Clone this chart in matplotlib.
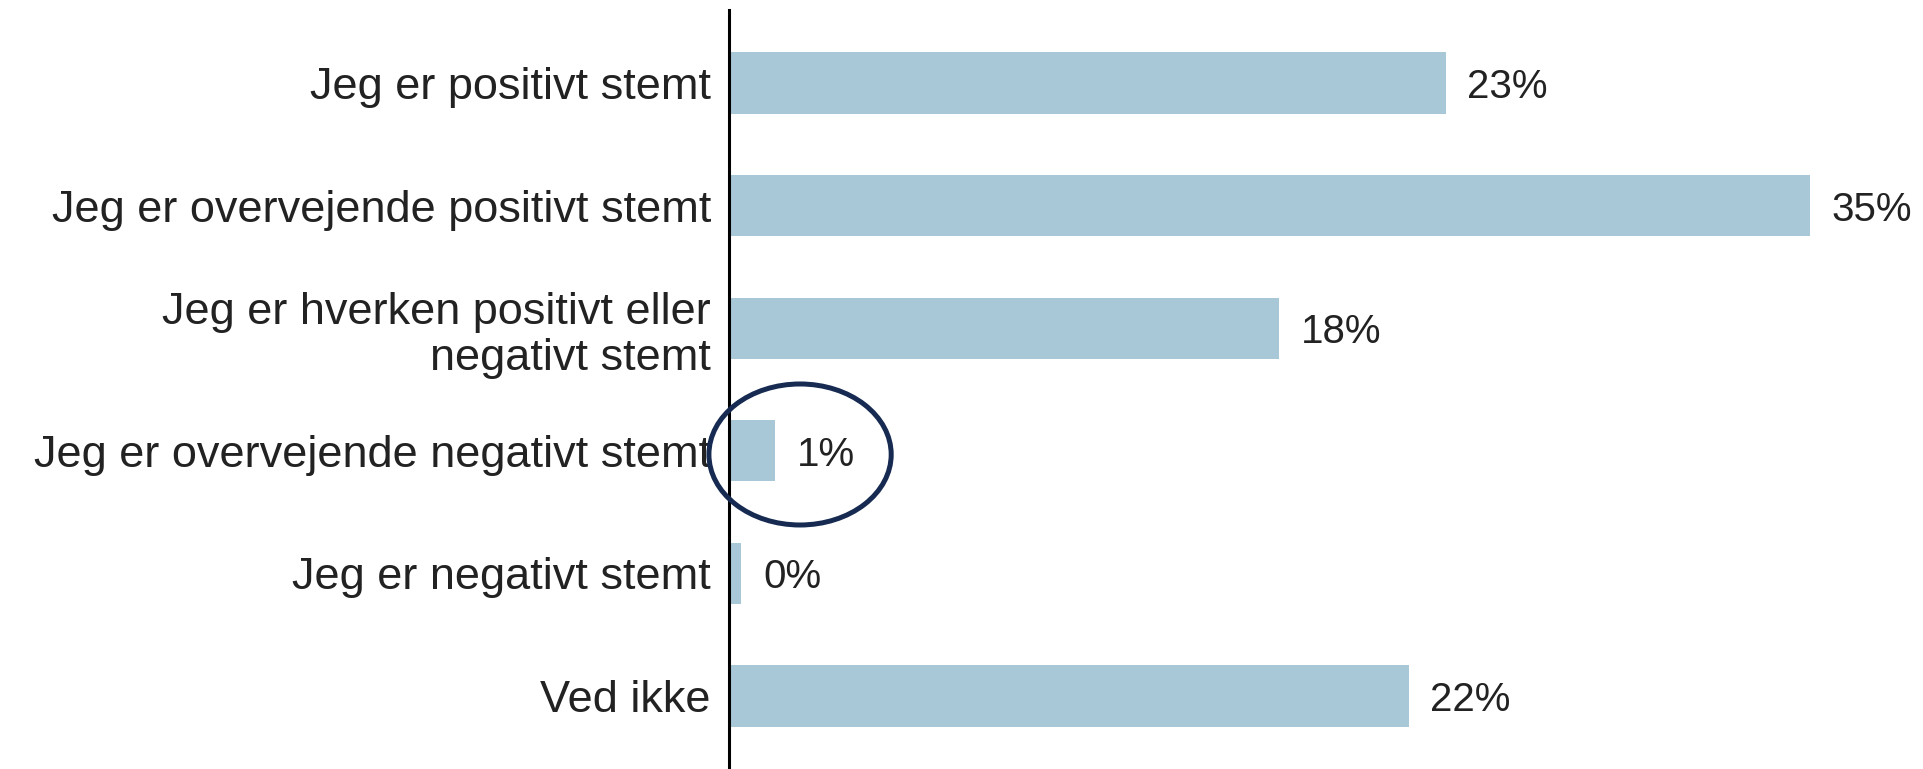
import matplotlib.pyplot as plt
from matplotlib.patches import Ellipse

categories = ['Jeg er positivt stemt',
              'Jeg er overvejende positivt stemt',
              'Jeg er hverken positivt eller\nnegativt stemt',
              'Jeg er overvejende negativt stemt',
              'Jeg er negativt stemt',
              'Ved ikke']
values = [23.2, 35.0, 17.8, 1.5, 0.4, 22.0]
value_labels = ['23%', '35%', '18%', '1%', '0%', '22%']

plt.rcParams['font.family'] = ['Liberation Sans', 'DejaVu Sans']

fig = plt.figure(figsize=(19.23, 7.69), dpi=100)
ax = fig.add_axes([729 / 1923, 0, 1174 / 1923, 759 / 769])

pos = list(range(len(categories)))
ax.barh(pos, values, height=0.5, color='#a8c8d7')
for y, v, lab in zip(pos, values, value_labels):
    ax.text(v + 0.7, y, lab, va='center_baseline', ha='left', fontsize=29, color='#222222')

ax.set_yticks(pos)
ax.set_yticklabels(categories, fontsize=32.5, color='#222222', linespacing=1.18)
for t in ax.get_yticklabels():
    t.set_verticalalignment('center_baseline')
ax.set_xlim(0, 38)
ax.set_ylim(5.595, -0.595)
ax.set_xticks([])
ax.tick_params(axis='y', length=0, pad=13)
for s in ['top', 'right', 'bottom']:
    ax.spines[s].set_visible(False)
ax.spines['left'].set_linewidth(2.2)
ax.spines['left'].set_color('black')

# highlight ring around the 1% bar
ring = Ellipse((2.3, 3.03), 5.9, 1.15, fill=False, edgecolor='#172b52',
               linewidth=3.6, clip_on=False, zorder=5)
ax.add_patch(ring)

plt.savefig('out.png', dpi=100)
plt.close()
